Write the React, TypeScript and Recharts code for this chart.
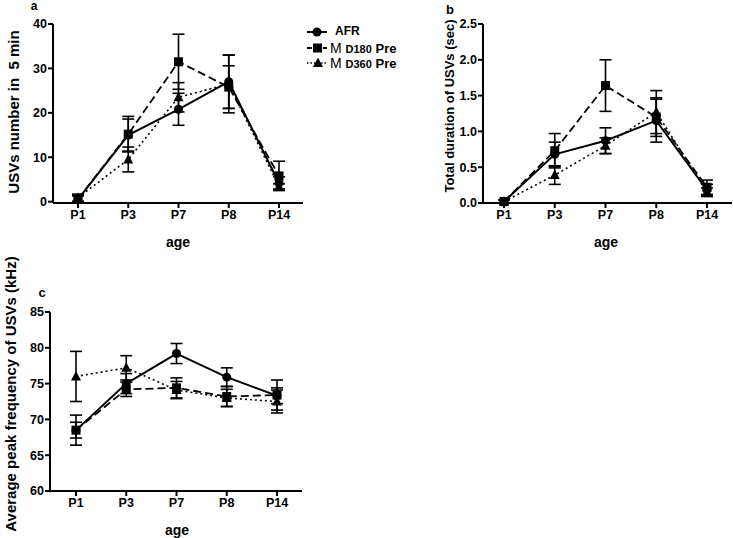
import { ErrorBar, Line, LineChart, XAxis, YAxis } from 'recharts';

const ages = ['P1', 'P3', 'P7', 'P8', 'P14'];

// panel a: USVs number in 5 min
const afrCount = [0.5, 15.0, 20.8, 27.0, 4.2];
const afrCountErr = [0.8, 3.6, 3.6, 6.0, 1.4];
const md180Count = [0.6, 15.2, 31.5, 25.8, 5.8];
const md180CountErr = [0.8, 4.0, 6.2, 4.8, 3.3];
const md360Count = [0.9, 9.5, 23.5, 26.5, 3.4];
const md360CountErr = [0.8, 2.8, 3.3, 6.5, 0.6];
const countTicks = [0, 10, 20, 30, 40];

// panel b: total duration (sec)
const afrDur = [0.02, 0.68, 0.87, 1.15, 0.18];
const afrDurErr = [0.02, 0.17, 0.18, 0.3, 0.08];
const md180Dur = [0.02, 0.73, 1.64, 1.2, 0.22];
const md180DurErr = [0.02, 0.24, 0.36, 0.27, 0.1];
const md360Dur = [0.02, 0.39, 0.8, 1.27, 0.15];
const md360DurErr = [0.02, 0.13, 0.11, 0.3, 0.06];
const durTicks = [0, 0.5, 1, 1.5, 2, 2.5];

// panel c: average peak frequency (kHz)
const afrFreq = [68.5, 75.0, 79.2, 75.9, 73.3];
const afrFreqErr = [1.1, 1.4, 1.4, 1.3, 1.1];
const md180Freq = [68.5, 74.2, 74.4, 73.2, 73.4];
const md180FreqErr = [2.1, 1.0, 1.4, 1.4, 2.1];
const md360Freq = [76.0, 77.2, 74.1, 73.0, 72.5];
const md360FreqErr = [3.5, 1.7, 1.2, 1.2, 1.6];
const freqTicks = [60, 65, 70, 75, 80, 85];

const FONT = '"Liberation Sans", Arial, sans-serif';

function buildRows(afr: number[], afrE: number[], m180: number[], m180E: number[], m360: number[], m360E: number[]) {
    return ages.map((age, i) => ({
        age,
        afr: afr[i],
        afrErr: afrE[i],
        md180: m180[i],
        md180Err: m180E[i],
        md360: m360[i],
        md360Err: m360E[i],
    }));
}

const makeDot = (shape: 'circle' | 'square' | 'triangle') => (props: any) => {
    const { cx, cy, index } = props;
    if (cx == null || cy == null) return <g key={index} />;
    if (shape === 'circle') {
        return <circle key={index} cx={cx} cy={cy} r={4.5} fill="#000" />;
    }
    if (shape === 'square') {
        return <rect key={index} x={cx - 4.5} y={cy - 4.5} width={9} height={9} fill="#000" />;
    }
    return (
        <polygon
            key={index}
            points={`${cx},${cy - 5.5} ${cx + 5},${cy + 4} ${cx - 5},${cy + 4}`}
            fill="#000"
        />
    );
};

const tickStyle = { fill: '#000', fontSize: 12.5, fontWeight: 700, fontFamily: FONT };
const xTickStyle = { fill: '#000', fontSize: 12.5, fontWeight: 700, fontFamily: FONT };
const axisStroke = { stroke: '#000', strokeWidth: 2 };

interface PanelProps {
    data: any[];
    ticks: number[];
    domain: [number, number];
    left: number;
    top: number;
    width: number;
    height: number;
    margin: { top: number; right: number; bottom: number; left: number };
    padding: { left: number; right: number };
    format?: (v: number) => string;
}

function Panel({ data, ticks, domain, left, top, width, height, margin, padding, format }: PanelProps) {
    return (
        <div style={{ position: 'absolute', left, top }}>
            <LineChart width={width} height={height} data={data} margin={margin}>
                <XAxis
                    dataKey="age"
                    padding={padding}
                    height={30}
                    tick={xTickStyle}
                    tickLine={axisStroke}
                    axisLine={axisStroke}
                    tickSize={5}
                    interval={0}
                />
                <YAxis
                    domain={domain}
                    ticks={ticks}
                    width={44}
                    tick={tickStyle}
                    tickLine={axisStroke}
                    axisLine={axisStroke}
                    tickSize={5}
                    tickMargin={1}
                    tickFormatter={format}
                    interval={0}
                />
                <Line
                    dataKey="md360"
                    stroke="#000"
                    strokeWidth={1.6}
                    strokeDasharray="2 3"
                    dot={makeDot('triangle')}
                    isAnimationActive={false}
                >
                    <ErrorBar dataKey="md360Err" width={6} stroke="#000" strokeWidth={1.6} direction="y" isAnimationActive={false} />
                </Line>
                <Line
                    dataKey="md180"
                    stroke="#000"
                    strokeWidth={1.8}
                    strokeDasharray="8 4"
                    dot={makeDot('square')}
                    isAnimationActive={false}
                >
                    <ErrorBar dataKey="md180Err" width={6} stroke="#000" strokeWidth={1.6} direction="y" isAnimationActive={false} />
                </Line>
                <Line
                    dataKey="afr"
                    stroke="#000"
                    strokeWidth={2}
                    dot={makeDot('circle')}
                    isAnimationActive={false}
                >
                    <ErrorBar dataKey="afrErr" width={6} stroke="#000" strokeWidth={1.6} direction="y" isAnimationActive={false} />
                </Line>
            </LineChart>
        </div>
    );
}

function VTitle({ x, y, size, children }: { x: number; y: number; size: number; children: string }) {
    return (
        <div
            style={{
                position: 'absolute',
                left: x,
                top: y,
                transform: 'translate(-50%, -50%) rotate(-90deg)',
                whiteSpace: 'pre',
                fontFamily: FONT,
                fontWeight: 700,
                fontSize: size,
                color: '#000',
            }}
        >
            {children}
        </div>
    );
}

function Text({ x, y, size, children }: { x: number; y: number; size: number; children: string }) {
    return (
        <div
            style={{
                position: 'absolute',
                left: x,
                top: y,
                transform: 'translate(-50%, -50%)',
                whiteSpace: 'pre',
                fontFamily: FONT,
                fontWeight: 700,
                fontSize: size,
                color: '#000',
            }}
        >
            {children}
        </div>
    );
}

function Legend() {
    const rowY = [32, 48, 63];
    return (
        <div style={{ position: 'absolute', left: 300, top: 0, width: 130, height: 75 }}>
            <svg width={130} height={75} style={{ position: 'absolute', left: 0, top: 0 }}>
                <line x1={7} y1={rowY[0]} x2={27} y2={rowY[0]} stroke="#000" strokeWidth={2} />
                <circle cx={17} cy={rowY[0]} r={4.5} fill="#000" />
                <line x1={7} y1={rowY[1]} x2={27} y2={rowY[1]} stroke="#000" strokeWidth={2} strokeDasharray="5 3" />
                <rect x={13} y={rowY[1] - 4.5} width={9} height={9} fill="#000" />
                <line x1={7} y1={rowY[2]} x2={27} y2={rowY[2]} stroke="#000" strokeWidth={1.6} strokeDasharray="1.5 2" />
                <polygon points={`18,${rowY[2] - 5.5} 23,${rowY[2] + 4} 13,${rowY[2] + 4}`} fill="#000" />
            </svg>
            <div style={{ position: 'absolute', left: 35, top: rowY[0] - 8, fontFamily: FONT, fontWeight: 700, fontSize: 12 }}>AFR</div>
            {['D180', 'D360'].map((d, i) => (
                <div
                    key={d}
                    style={{ position: 'absolute', left: 30, top: rowY[i + 1] - 9, fontFamily: FONT, whiteSpace: 'pre' }}
                >
                    <span style={{ fontSize: 14 }}>M </span>
                    <span style={{ fontSize: 11, fontWeight: 700 }}>{d}</span>
                    <span style={{ fontSize: 13, fontWeight: 700 }}> Pre</span>
                </div>
            ))}
        </div>
    );
}

export default function App() {
    const countRows = buildRows(afrCount, afrCountErr, md180Count, md180CountErr, md360Count, md360CountErr);
    const durRows = buildRows(afrDur, afrDurErr, md180Dur, md180DurErr, md360Dur, md360DurErr);
    const freqRows = buildRows(afrFreq, afrFreqErr, md180Freq, md180FreqErr, md360Freq, md360FreqErr);

    return (
        <div style={{ position: 'absolute', left: 0, top: 0, width: 733, height: 538, background: '#fff', overflow: 'hidden' }}>
            <Panel
                data={countRows}
                ticks={countTicks}
                domain={[0, 40]}
                left={0}
                top={0}
                width={310}
                height={235}
                margin={{ top: 24, right: 7, bottom: 2, left: 9 }}
                padding={{ left: 25, right: 24 }}
            />
            <Panel
                data={durRows}
                ticks={durTicks}
                domain={[0, 2.5]}
                left={420}
                top={0}
                width={313}
                height={235}
                margin={{ top: 24, right: 1, bottom: 2, left: 19 }}
                padding={{ left: 21, right: 25 }}
                format={(v) => v.toFixed(1)}
            />
            <Panel
                data={freqRows}
                ticks={freqTicks}
                domain={[60, 85]}
                left={0}
                top={280}
                width={310}
                height={245}
                margin={{ top: 32, right: 8, bottom: 4, left: 6 }}
                padding={{ left: 26, right: 25 }}
            />

            <VTitle x={13} y={112} size={15}>{'USVs number in  5 min'}</VTitle>
            <VTitle x={449} y={106} size={13}>{'Total duration of USVs (sec)'}</VTitle>
            <VTitle x={10} y={394} size={15}>{'Average peak frequency of USVs (kHz)'}</VTitle>

            <Text x={178} y={242} size={14}>age</Text>
            <Text x={606} y={242} size={14}>age</Text>
            <Text x={177} y={530} size={14}>age</Text>

            <Text x={34} y={6} size={12}>a</Text>
            <Text x={450} y={9} size={13}>b</Text>
            <Text x={42} y={292} size={13}>c</Text>

            <Legend />
        </div>
    );
}
